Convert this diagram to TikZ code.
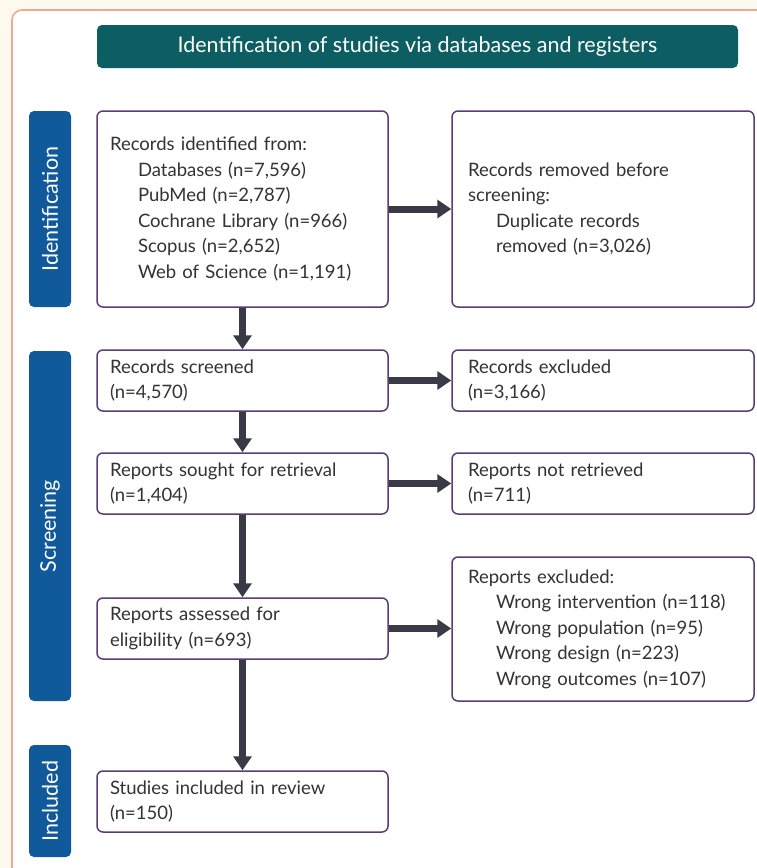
\documentclass[tikz,border=0pt]{standalone}
\usepackage{fontspec}
\setmainfont{Lato}
\usetikzlibrary{arrows.meta,positioning}

\definecolor{frameorange}{HTML}{F0A88E}
\definecolor{cream}{HTML}{FFFAEF}
\definecolor{headteal}{HTML}{0D5E62}
\definecolor{stageblue}{HTML}{10599A}
\definecolor{boxpurple}{HTML}{5A3D74}
\definecolor{arrgray}{HTML}{383B45}
\definecolor{txtgray}{HTML}{333333}

\newcommand{\subline}[1]{\hspace*{28pt}\mbox{#1}}

\begin{document}
\begin{tikzpicture}[x=1pt,y=-1pt,
  box/.style={draw=boxpurple,line width=1.5pt,rounded corners=6pt,fill=white,
    text=txtgray,align=left,inner ysep=4pt,
    font=\fontsize{18.5}{25.5}\selectfont},
  leftbox/.style={box,inner xsep=13pt,minimum width=291pt,text width=265pt},
  rightbox/.style={box,inner xsep=16pt,minimum width=302pt,text width=270pt},
  stage/.style={fill=stageblue,rounded corners=5pt,minimum width=42pt,
    text=white,rotate=90,font=\fontsize{21.5}{24}\selectfont,inner sep=0pt},
  arr/.style={arrgray,line width=7pt,-{Triangle[length=14pt,width=18pt]}}]

\clip (0,0) rectangle (757,868);
\fill[cream] (0,0) rectangle (757,868);
\draw[frameorange,line width=1.6pt,fill=white,rounded corners=10pt] (12,10) rectangle (790,900);

% header
\node[fill=headteal,rounded corners=5pt,minimum width=641pt,minimum height=43pt,
  text=white,font=\fontsize{21.5}{24}\selectfont] (head) at (417.5,46.5)
  {Identification of studies via databases and registers};

% stages
\node[stage,minimum width=196pt,minimum height=42pt] (sident) at (50,209) {Identification};
\node[stage,minimum width=350pt,minimum height=42pt] (sscreen) at (50,526) {Screening};
\node[stage,minimum width=112pt,minimum height=42pt] (sincl) at (50,801) {Included};

% left column
\node[leftbox,minimum height=196pt] (ident) at (242.5,209) {Records identified from:\\
  \subline{Databases (n=7,596)}\\
  \subline{PubMed (n=2,787)}\\
  \subline{Cochrane Library (n=966)}\\
  \subline{Scopus (n=2,652)}\\
  \subline{Web of Science (n=1,191)}};
\node[leftbox,minimum height=61pt] (screened) at (242.5,380.5) {Records screened\\(n=4,570)};
\node[leftbox,minimum height=61pt] (sought) at (242.5,483.5) {Reports sought for retrieval\\(n=1,404)};
\node[leftbox,minimum height=61pt] (assessed) at (242.5,628.5) {Reports assessed for\\eligibility (n=693)};
\node[leftbox,minimum height=61pt] (included) at (242.5,801.5) {Studies included in review\\(n=150)};

% right column
\node[rightbox,minimum height=196pt] (removed) at (603,209) {Records removed before\\screening:\\
  \subline{Duplicate records}\\
  \subline{removed (n=3,026)}};
\node[rightbox,minimum height=61pt] (excluded) at (603,380.5) {Records excluded\\(n=3,166)};
\node[rightbox,minimum height=61pt] (notret) at (603,483.5) {Reports not retrieved\\(n=711)};
\node[rightbox,minimum height=144pt] (repexcl) at (603,629) {Reports excluded:\\
  \subline{Wrong intervention (n=118)}\\
  \subline{Wrong population (n=95)}\\
  \subline{Wrong design (n=223)}\\
  \subline{Wrong outcomes (n=107)}};

% arrows
\draw[arr] (ident) -- (screened);
\draw[arr] (screened) -- (sought);
\draw[arr] (sought) -- (assessed);
\draw[arr] (assessed) -- (included);
\draw[arr] (ident) -- (removed);
\draw[arr] (screened) -- (excluded);
\draw[arr] (sought) -- (notret);
\draw[arr] (assessed.east) -- (assessed.east -| repexcl.west);
\end{tikzpicture}
\end{document}
